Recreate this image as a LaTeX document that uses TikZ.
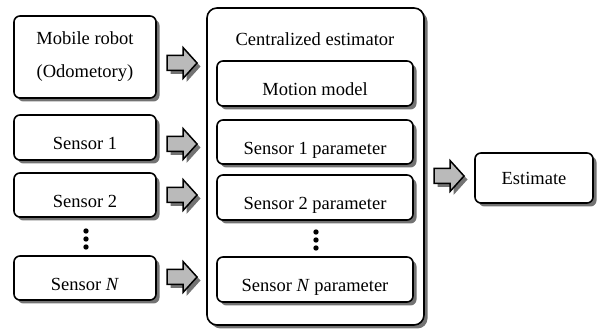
\documentclass[tikz,border=0pt]{standalone}
\usepackage{fontspec}
\setmainfont{Liberation Serif}
\usetikzlibrary{shadows}
\begin{document}
\begin{tikzpicture}[x=1pt,y=-1pt,
  shad/.style={drop shadow={shadow xshift=3.5pt,shadow yshift=-3.5pt,fill=black!55,opacity=1}},
  box/.style={draw,line width=1.6pt,rounded corners=6pt,fill=white,shad,
    font=\fontsize{18.5}{22}\selectfont,inner sep=0pt},
  lowtext/.style={text height=25pt,text depth=0pt},
  bigbox/.style={draw,line width=1.6pt,rounded corners=10pt,fill=white,shad},
  arrowstyle/.style={draw,line width=1.5pt,fill=black!27,line join=miter,shad},
  fatarrow/.pic={\path[arrowstyle] (-15,7.5) -- (1,7.5) -- (1,15.5) -- (15,0) -- (1,-15.5) -- (1,-7.5) -- (-15,-7.5) -- cycle;},
  dot/.style={circle,fill=black,inner sep=0pt,minimum size=5.4pt}
]
\useasboundingbox (0,0) rectangle (597,336);

% left column
\node[box,minimum width=142pt,minimum height=82pt,align=center,
  font=\fontsize{18.5}{33}\selectfont] (robot) at (85,57) {Mobile robot\\(Odometory)};
\node[box,lowtext,minimum width=142pt,minimum height=45pt] (s1) at (85,137.5) {Sensor 1};
\node[box,lowtext,minimum width=142pt,minimum height=44pt] (s2) at (85,195) {Sensor 2};
\node[box,lowtext,minimum width=142pt,minimum height=44pt] (sN) at (85,278) {Sensor \textit{N}};
\node[dot] (ld1) at (86,231) {};
\node[dot] (ld2) at (86,239) {};
\node[dot] (ld3) at (86,247) {};

% central estimator
\node[bigbox,minimum width=217pt,minimum height=317pt] (est) at (315.5,166.5) {};
\node[font=\fontsize{18.5}{22}\selectfont,inner sep=0pt] (title) at (315,39) {Centralized estimator};
\node[box,lowtext,minimum width=196pt,minimum height=45pt] (mm) at (315,83.5) {Motion model};
\node[box,lowtext,minimum width=196pt,minimum height=44pt] (p1) at (315,142) {Sensor 1 parameter};
\node[box,lowtext,minimum width=196pt,minimum height=45pt] (p2) at (315,197.5) {Sensor 2 parameter};
\node[dot] (rd1) at (316,232) {};
\node[dot] (rd2) at (316,240) {};
\node[dot] (rd3) at (316,248) {};
\node[box,lowtext,minimum width=196pt,minimum height=45pt] (pN) at (315,279.5) {Sensor \textit{N} parameter};

% output
\node[box,minimum width=118pt,minimum height=50pt] (out) at (534,178) {Estimate};

% block arrows
\pic (a1) at (182,63) {fatarrow};
\pic (a2) at (182,144) {fatarrow};
\pic (a3) at (182,195) {fatarrow};
\pic (a4) at (182,277) {fatarrow};
\pic (a5) at (449,176) {fatarrow};
\end{tikzpicture}
\end{document}
